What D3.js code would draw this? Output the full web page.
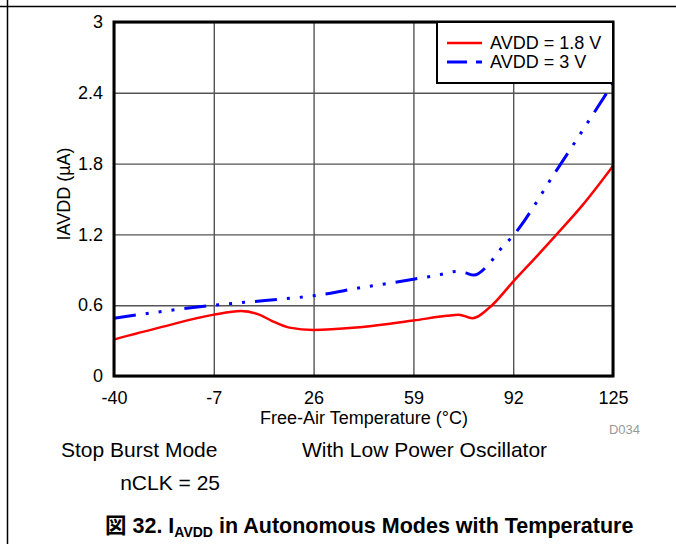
<!DOCTYPE html>
<html>
<head>
<meta charset="utf-8">
<script src="https://cdn.jsdelivr.net/npm/d3@7"></script>
<style>
  html, body { margin: 0; padding: 0; background: #fff; }
  svg { display: block; font-family: "Liberation Sans", Arial, sans-serif; }
</style>
</head>
<body>
<svg id="chart" width="676" height="544"></svg>
<script>
// ---- Data ----
const xTicks = [-40, -7, 26, 59, 92, 125];
const yTicks = [0, 0.6, 1.2, 1.8, 2.4, 3];
const yTickLabels = ["0", "0.6", "1.2", "1.8", "2.4", "3"];

const redTemp = [-40, -25, -7, 2, 8, 12, 18, 26, 40, 59, 70, 74, 78.5, 85, 92, 100, 106, 115, 125];
const redVal  = [0.31, 0.41, 0.52, 0.55, 0.52, 0.47, 0.41, 0.39, 0.41, 0.47, 0.51, 0.52, 0.49, 0.60, 0.80, 1.02, 1.19, 1.45, 1.78];

const blueTemp = [-40, -7, 10, 26, 42, 59, 68, 73, 76, 79, 84, 88, 92, 106, 125];
const blueVal  = [0.49, 0.60, 0.64, 0.68, 0.75, 0.82, 0.86, 0.885, 0.875, 0.855, 0.95, 1.08, 1.19, 1.73, 2.48];

const seriesNames = ["AVDD = 1.8 V", "AVDD = 3 V"];

// ---- Layout ----
const svg = d3.select("#chart");
const L = 114, R = 613, T = 22, B = 376;

const x = d3.scaleLinear().domain([-40, 125]).range([L, R]);
const y = d3.scaleLinear().domain([0, 3]).range([B, T]);

// page frame lines
svg.append("line").attr("x1", 0).attr("x2", 676).attr("y1", 6.5).attr("y2", 6.5)
  .attr("stroke", "#000").attr("stroke-width", 1.5);
svg.append("line").attr("x1", 7.5).attr("x2", 7.5).attr("y1", 0).attr("y2", 544)
  .attr("stroke", "#000").attr("stroke-width", 1.5);

// grid
const gx = svg.append("g").attr("transform", `translate(0,${B})`)
  .call(d3.axisBottom(x).tickValues(xTicks).tickSize(-(B - T)).tickFormat(""));
gx.select(".domain").remove();
gx.selectAll(".tick line").attr("stroke", "#555").attr("stroke-width", 1.4);

const gy = svg.append("g").attr("transform", `translate(${L},0)`)
  .call(d3.axisLeft(y).tickValues(yTicks).tickSize(-(R - L)).tickFormat(""));
gy.select(".domain").remove();
gy.selectAll(".tick line").attr("stroke", "#555").attr("stroke-width", 1.4);

// tick labels
const xl = svg.append("g").attr("transform", `translate(0,${B + 12})`)
  .call(d3.axisBottom(x).tickValues(xTicks).tickSize(0).tickFormat(d => String(d)));
xl.select(".domain").remove();
xl.selectAll("text").attr("font-size", 18).attr("font-family", "Liberation Sans, Arial, sans-serif").attr("fill", "#000");

const yl = svg.append("g").attr("transform", `translate(${L - 8},0)`)
  .call(d3.axisLeft(y).tickValues(yTicks).tickSize(0).tickFormat((d, i) => yTickLabels[i]));
yl.select(".domain").remove();
yl.selectAll("text").attr("font-size", 18).attr("font-family", "Liberation Sans, Arial, sans-serif").attr("fill", "#000");

// lines
const line = d3.line().x(d => x(d[0])).y(d => y(d[1])).curve(d3.curveMonotoneX);
const redData = redTemp.map((t, i) => [t, redVal[i]]);
const blueData = blueTemp.map((t, i) => [t, blueVal[i]]);

svg.append("clipPath").attr("id", "clip").append("rect")
  .attr("x", L).attr("y", T).attr("width", R - L).attr("height", B - T);

svg.append("path").datum(redData).attr("d", line).attr("fill", "none")
  .attr("stroke", "#ff0000").attr("stroke-width", 2.5).attr("clip-path", "url(#clip)");
svg.append("path").datum(blueData).attr("d", line).attr("fill", "none")
  .attr("stroke", "#0000ff").attr("stroke-width", 3)
  .attr("stroke-dasharray", "22,10,3,10,3,10,3,10").attr("clip-path", "url(#clip)");

// frame
svg.append("rect").attr("x", L).attr("y", T).attr("width", R - L).attr("height", B - T)
  .attr("fill", "none").attr("stroke", "#000").attr("stroke-width", 3);

// legend
const lg = svg.append("g");
lg.append("rect").attr("x", 437).attr("y", T).attr("width", R - 437).attr("height", 61)
  .attr("fill", "#fff").attr("stroke", "#000").attr("stroke-width", 2);
lg.append("line").attr("x1", 447).attr("x2", 482).attr("y1", 43).attr("y2", 43)
  .attr("stroke", "#ff0000").attr("stroke-width", 2.5);
lg.append("line").attr("x1", 447).attr("x2", 482).attr("y1", 62).attr("y2", 62)
  .attr("stroke", "#0000ff").attr("stroke-width", 3).attr("stroke-dasharray", "20,9,6,9");
lg.append("text").attr("x", 490).attr("y", 49).attr("font-size", 18).text(seriesNames[0]);
lg.append("text").attr("x", 490).attr("y", 68).attr("font-size", 18).text(seriesNames[1]);

// axis titles
svg.append("text").attr("x", 364).attr("y", 424).attr("text-anchor", "middle")
  .attr("font-size", 18).text("Free-Air Temperature (°C)");
svg.append("text").attr("transform", `translate(70,194) rotate(-90)`)
  .attr("text-anchor", "middle").attr("font-size", 18).text("IAVDD (µA)");

// footnotes
svg.append("text").attr("x", 640).attr("y", 434).attr("text-anchor", "end")
  .attr("font-size", 13).attr("fill", "#999").text("D034");
svg.append("text").attr("x", 61).attr("y", 457).attr("font-size", 21).text("Stop Burst Mode");
svg.append("text").attr("x", 302).attr("y", 457).attr("font-size", 21).text("With Low Power Oscillator");
svg.append("text").attr("x", 220).attr("y", 490).attr("text-anchor", "end").attr("font-size", 21).text("nCLK = 25");

const title = svg.append("text").attr("x", 105).attr("y", 533).attr("font-size", 21.5).attr("font-weight", "bold");
title.append("tspan").attr("font-family", "Noto Sans CJK JP").text("図");
title.append("tspan").text(" 32. I");
title.append("tspan").attr("font-size", 14).attr("dy", 4).text("AVDD");
title.append("tspan").attr("dy", -4).text(" in Autonomous Modes with Temperature");
</script>
</body>
</html>
